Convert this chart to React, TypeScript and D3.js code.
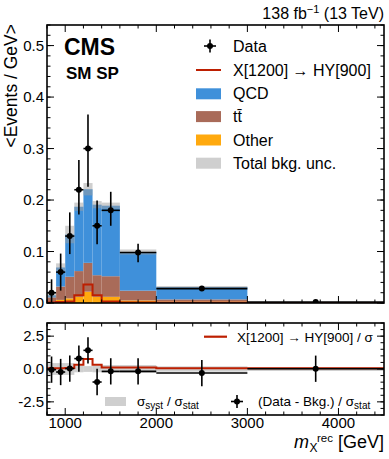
import React from 'react';
import * as d3 from 'd3';

// ---- data ----
const binEdges = [800, 900, 1000, 1100, 1200, 1300, 1400, 1600, 2000, 3000, 4500];
const otherBkg = [0.001, 0.006, 0.009, 0.012, 0.022, 0.012, 0.012, 0.005, 0.003, 0.0003];
const ttbarBkg = [0.010, 0.026, 0.042, 0.050, 0.056, 0.042, 0.040, 0.019, 0.004, 0.0003];
const qcdBkg = [0.004, 0.037, 0.082, 0.125, 0.143, 0.137, 0.137, 0.075, 0.024, 0.0006];
const bkgUnc = [0.004, 0.008, 0.017, 0.008, 0.012, 0.007, 0.006, 0.005, 0.002, 0.0003];
const dataVals = [0.020, 0.060, 0.130, 0.220, 0.300, 0.150, 0.180, 0.098, 0.028, 0.002];
const dataErrUp = [0.026, 0.036, 0.046, 0.058, 0.066, 0.049, 0.036, 0.017, 0.004, 0.002];
const dataErrDown = [0.020, 0.036, 0.035, 0.048, 0.074, 0.036, 0.030, 0.019, 0.004, 0.002];
const signalVals = [0.001, 0.002, 0.003, 0.015, 0.036, 0.015, 0.003, 0.001, 0.0005, 0.0001];
const pullVals = [-0.05, -0.23, 0.03, 0.79, 1.42, -0.99, -0.18, -0.18, -0.31, 0.02];
const pullErr = [1, 1, 1, 1, 1, 1, 1, 1, 1, 1];
const systOverStat = [0.45, 0.45, 0.45, 0.25, 0.22, 0.25, 0.3, 0.3, 0.2, 0.15];
const signalOverSigma = [0.06, 0.06, 0.08, 0.33, 0.76, 0.33, 0.12, 0.12, 0.06, 0.05];
const xTickLabels = [1000, 2000, 3000, 4000];
const yMainTicks = [0, 0.1, 0.2, 0.3, 0.4, 0.5];
const yRatioTicks = [-2.5, 0, 2.5];

const COL_QCD = '#3f90da';
const COL_TT = '#a96b59';
const COL_OTHER = '#ffa90e';
const COL_SIG = '#bd1f01';
const FONT = '"Liberation Sans", Arial, Helvetica, sans-serif';

const X0 = 47, X1 = 384;
const MT = 25, MB = 303, RT = 323, RB = 415;

export default function App() {
  const x = d3.scaleLinear().domain([800, 4500]).range([X0, X1]);
  const yM = d3.scaleLinear().domain([0, 0.54]).range([MB, MT]);
  const yR = d3.scaleLinear().domain([-3.5, 3.5]).range([RB, RT]);

  const bins = dataVals.map((_, i) => ({ lo: binEdges[i], hi: binEdges[i + 1], c: (binEdges[i] + binEdges[i + 1]) / 2 }));

  const stepPts = (vals: number[]) => {
    const pts: [number, number][] = [];
    vals.forEach((v, i) => { pts.push([binEdges[i], v]); pts.push([binEdges[i + 1], v]); });
    return pts;
  };
  const lineM = d3.line<[number, number]>().x(d => x(d[0])).y(d => yM(d[1]));
  const lineR = d3.line<[number, number]>().x(d => x(d[0])).y(d => yR(d[1]));

  const xMinor = d3.range(800, 4501, 200);
  const yMMinor = d3.range(0, 0.541, 0.02);
  const yRMinor = d3.range(-3.5, 3.51, 0.5);

  const ticksX = (top: number, bottom: number, key: string) => (
    <g key={key} stroke="#000" strokeWidth={1}>
      {xMinor.map(v => (
        <g key={v}>
          <line x1={x(v)} x2={x(v)} y1={bottom} y2={bottom - (v % 1000 === 0 ? 7 : 3.5)} />
          <line x1={x(v)} x2={x(v)} y1={top} y2={top + (v % 1000 === 0 ? 7 : 3.5)} />
        </g>
      ))}
    </g>
  );
  const ticksY = (scale: any, majors: number[], minors: number[], key: string) => (
    <g key={key} stroke="#000" strokeWidth={1}>
      {minors.map((v, i) => (
        <g key={'m' + i}>
          <line x1={X0} x2={X0 + 3.5} y1={scale(v)} y2={scale(v)} />
          <line x1={X1} x2={X1 - 3.5} y1={scale(v)} y2={scale(v)} />
        </g>
      ))}
      {majors.map((v, i) => (
        <g key={'M' + i}>
          <line x1={X0} x2={X0 + 7} y1={scale(v)} y2={scale(v)} />
          <line x1={X1} x2={X1 - 7} y1={scale(v)} y2={scale(v)} />
        </g>
      ))}
    </g>
  );

  const legRows = [46, 70, 93.8, 116.6, 140, 163.2];

  return (
    <svg width={389} height={459} style={{ position: 'absolute', left: 0, top: 0, background: '#fff' }} fontFamily={FONT}>
      <defs>
        <clipPath id="clipM"><rect x={X0} y={MT} width={X1 - X0} height={MB - MT} /></clipPath>
        <clipPath id="clipR"><rect x={X0} y={RT} width={X1 - X0} height={RB - RT} /></clipPath>
      </defs>

      {/* ---- main panel ---- */}
      <g clipPath="url(#clipM)">
        {bins.map((b, i) => {
          const o = otherBkg[i], t = ttbarBkg[i], q = qcdBkg[i];
          const w = x(b.hi) - x(b.lo);
          return (
            <g key={i}>
              <rect x={x(b.lo)} width={w} y={yM(o)} height={yM(0) - yM(o)} fill={COL_OTHER} />
              <rect x={x(b.lo)} width={w} y={yM(o + t)} height={yM(o) - yM(o + t)} fill={COL_TT} />
              <rect x={x(b.lo)} width={w} y={yM(o + t + q)} height={yM(o + t) - yM(o + t + q)} fill={COL_QCD} />
            </g>
          );
        })}
        {bins.map((b, i) => {
          const tot = otherBkg[i] + ttbarBkg[i] + qcdBkg[i];
          return (
            <rect key={'u' + i} x={x(b.lo)} width={x(b.hi) - x(b.lo)} y={yM(tot + bkgUnc[i])}
              height={yM(tot - bkgUnc[i]) - yM(tot + bkgUnc[i])} fill="#a0a0a0" fillOpacity={0.5} />
          );
        })}
        <path d={lineM(stepPts(signalVals)) || ''} fill="none" stroke={COL_SIG} strokeWidth={2} />
        {bins.map((b, i) => (
          <g key={'d' + i} stroke="#000" strokeWidth={1.6}>
            <line x1={x(b.lo)} x2={x(b.hi)} y1={yM(dataVals[i])} y2={yM(dataVals[i])} />
            <line x1={x(b.c)} x2={x(b.c)} y1={yM(dataVals[i] - dataErrDown[i])} y2={yM(dataVals[i] + dataErrUp[i])} />
            <circle cx={x(b.c)} cy={yM(dataVals[i])} r={3} fill="#000" stroke="none" />
          </g>
        ))}
      </g>
      {ticksX(MT, MB, 'txm')}
      {ticksY(yM, yMainTicks, yMMinor, 'tym')}
      <rect x={X0} y={MT} width={X1 - X0} height={MB - MT} fill="none" stroke="#000" strokeWidth={1.6} />
      {yMainTicks.map(v => (
        <text key={v} x={X0 - 3} y={yM(v) + 5.3} textAnchor="end" fontSize={15}>{v.toFixed(1)}</text>
      ))}
      <text transform={`translate(17,24) rotate(-90)`} textAnchor="end" fontSize={17.5}>{'<Events / GeV>'}</text>

      <text x={384} y={19} textAnchor="end" fontSize={16}>
        138 fb<tspan dy={-6} fontSize={11}>−1</tspan><tspan dy={6}> (13 TeV)</tspan>
      </text>
      <text x={64} y={55} fontSize={23} fontWeight="bold">CMS</text>
      <text x={66} y={79} fontSize={17} fontWeight="bold">SM SP</text>

      {/* legend */}
      <g fontSize={16}>
        <g stroke="#000" strokeWidth={1.6}>
          <line x1={204} x2={216} y1={legRows[0]} y2={legRows[0]} />
          <line x1={210} x2={210} y1={legRows[0] - 6.5} y2={legRows[0] + 6.5} />
          <circle cx={210} cy={legRows[0]} r={3} fill="#000" stroke="none" />
        </g>
        <text x={233} y={legRows[0] + 5.6}>Data</text>
        <line x1={196} x2={221} y1={legRows[1]} y2={legRows[1]} stroke={COL_SIG} strokeWidth={2} />
        <text x={233} y={legRows[1] + 5.6}>X[1200] → HY[900]</text>
        <rect x={196} y={legRows[2] - 5.5} width={25} height={11} fill={COL_QCD} />
        <text x={233} y={legRows[2] + 5.6}>QCD</text>
        <rect x={196} y={legRows[3] - 5.5} width={25} height={11} fill={COL_TT} />
        <text x={233} y={legRows[3] + 5.6}>t{'t\u0304'}</text>
        <rect x={196} y={legRows[4] - 5.5} width={25} height={11} fill={COL_OTHER} />
        <text x={233} y={legRows[4] + 5.6}>Other</text>
        <rect x={196} y={legRows[5] - 5.5} width={25} height={11} fill="#a0a0a0" fillOpacity={0.5} />
        <text x={233} y={legRows[5] + 5.6}>Total bkg. unc.</text>
      </g>

      {/* ---- ratio panel ---- */}
      <g clipPath="url(#clipR)">
        {bins.map((b, i) => (
          <rect key={'s' + i} x={x(b.lo)} width={x(b.hi) - x(b.lo)} y={yR(systOverStat[i])}
            height={yR(-systOverStat[i]) - yR(systOverStat[i])} fill="#a0a0a0" fillOpacity={0.5} />
        ))}
        <path d={lineR(stepPts(signalOverSigma)) || ''} fill="none" stroke={COL_SIG} strokeWidth={2} />
        {bins.map((b, i) => (
          <g key={'p' + i} stroke="#000" strokeWidth={1.6}>
            <line x1={x(b.lo)} x2={x(b.hi)} y1={yR(pullVals[i])} y2={yR(pullVals[i])} />
            <line x1={x(b.c)} x2={x(b.c)} y1={yR(pullVals[i] - pullErr[i])} y2={yR(pullVals[i] + pullErr[i])} />
            <circle cx={x(b.c)} cy={yR(pullVals[i])} r={3} fill="#000" stroke="none" />
          </g>
        ))}
      </g>
      {ticksX(RT, RB, 'txr')}
      {ticksY(yR, yRatioTicks, yRMinor, 'tyr')}
      <rect x={X0} y={RT} width={X1 - X0} height={RB - RT} fill="none" stroke="#000" strokeWidth={1.6} />
      {yRatioTicks.map(v => (
        <text key={v} x={X0 - 3} y={yR(v) + 5.3} textAnchor="end" fontSize={15}>{v.toFixed(1)}</text>
      ))}
      {xTickLabels.map(v => (
        <text key={v} x={x(v)} y={428} textAnchor="middle" fontSize={15}>{v}</text>
      ))}

      {/* ratio legends */}
      <g fontSize={13.5}>
        <line x1={204} x2={227} y1={336.7} y2={336.7} stroke={COL_SIG} strokeWidth={2.2} />
        <text x={237} y={341.6}>X[1200] → HY[900] / σ</text>
        <rect x={105} y={397} width={21} height={9} fill="#a0a0a0" fillOpacity={0.5} />
        <text x={137} y={405.5}>σ<tspan dy={3.5} fontSize={10}>syst</tspan><tspan dy={-3.5}> / σ</tspan><tspan dy={3.5} fontSize={10}>stat</tspan></text>
        <g stroke="#000" strokeWidth={1.6}>
          <line x1={231} x2={243} y1={401.5} y2={401.5} />
          <line x1={237} x2={237} y1={395} y2={408} />
          <circle cx={237} cy={401.5} r={3} fill="#000" stroke="none" />
        </g>
        <text x={258} y={405.5}>(Data - Bkg.) / σ<tspan dy={3.5} fontSize={10}>stat</tspan></text>
      </g>

      {/* x axis label */}
      <g fontSize={18}>
        <text x={294} y={448} fontStyle="italic">m</text>
        <text x={309.5} y={452} fontSize={12}>X</text>
        <text x={317} y={441.5} fontSize={11.5}>rec</text>
        <text x={384} y={448} textAnchor="end">[GeV]</text>
      </g>
    </svg>
  );
}
